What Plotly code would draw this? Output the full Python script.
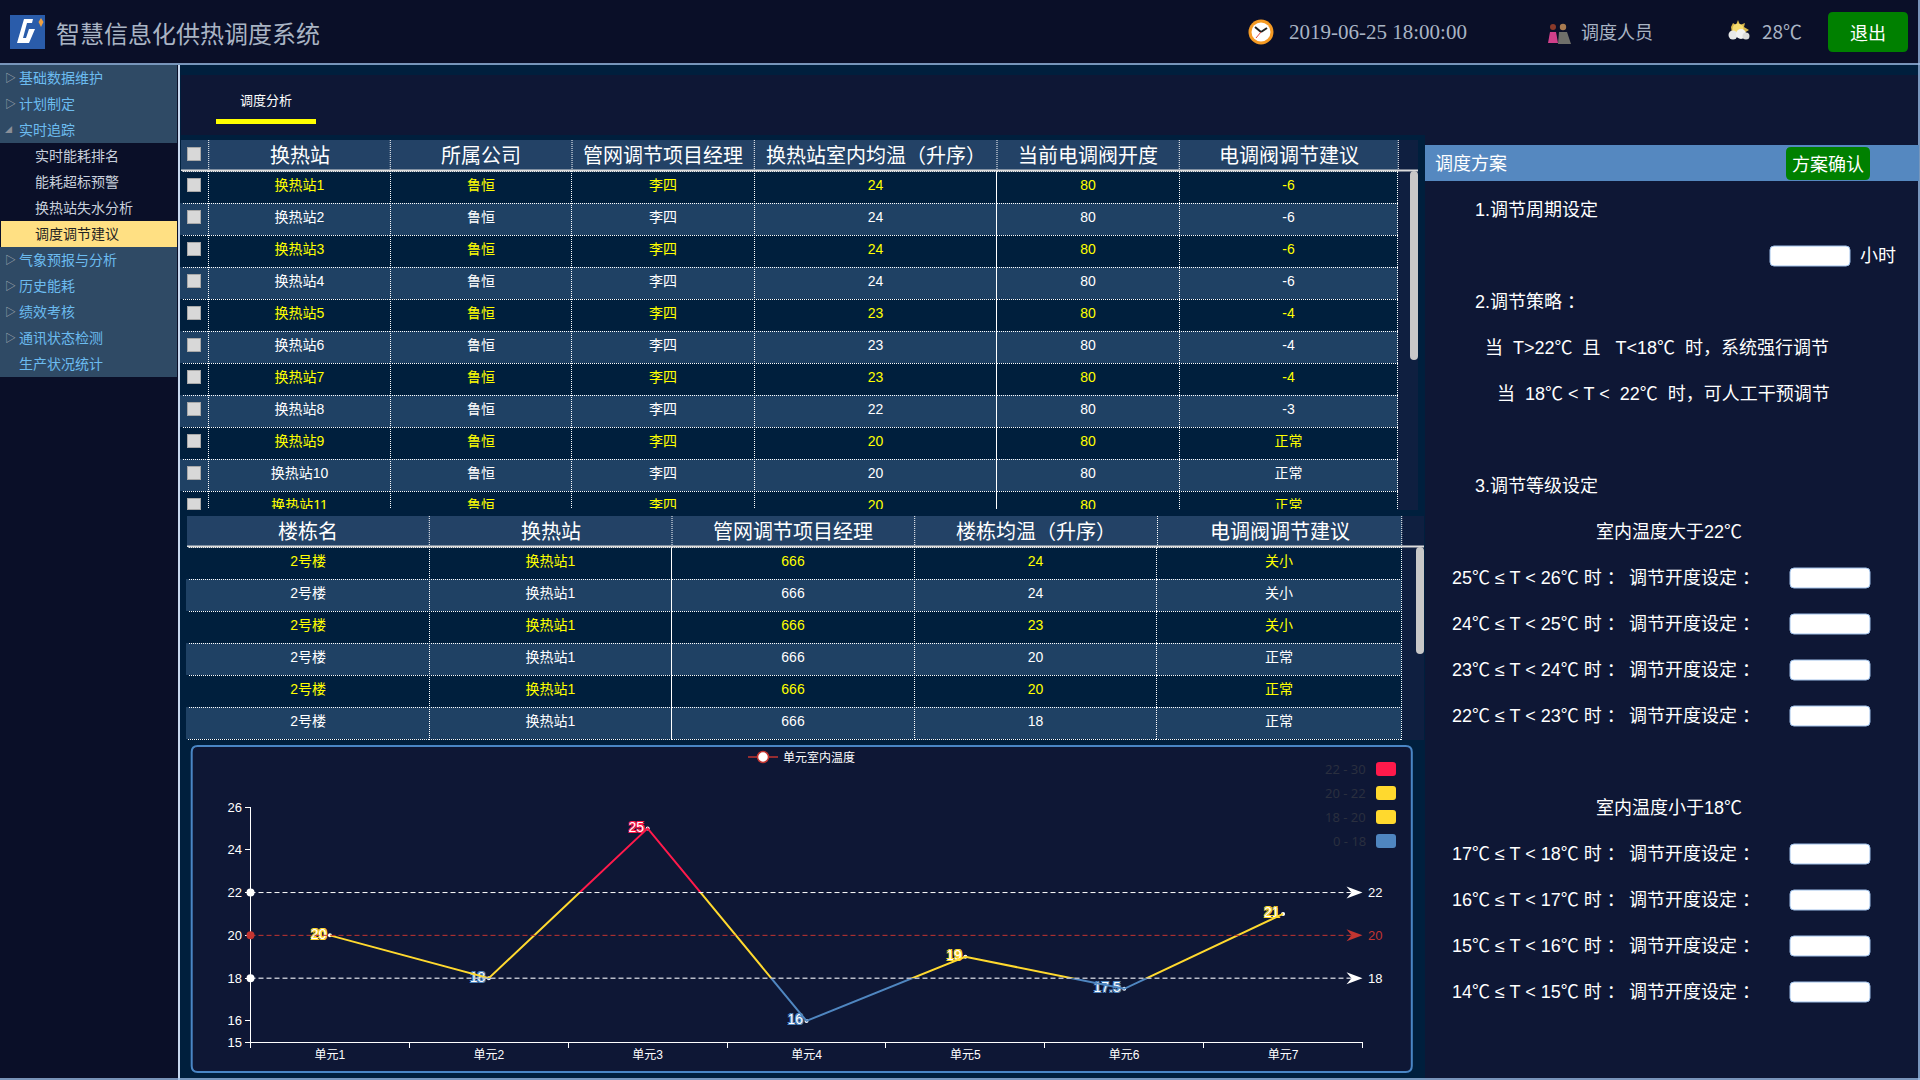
import plotly.graph_objects as go

# ---------- data ----------
units = ["单元1", "单元2", "单元3", "单元4", "单元5", "单元6", "单元7"]
unit_temps = [20, 18, 25, 16, 19, 17.5, 21]
mark_lines = [22, 20, 18]
y_ticks = [15, 16, 18, 20, 22, 24, 26]
band_labels = ["22 - 30", "20 - 22", "18 - 20", "0 - 18"]

t1_headers = ["换热站", "所属公司", "管网调节项目经理", "换热站室内均温（升序）", "当前电调阀开度", "电调阀调节建议"]
t1_station = ["换热站%d" % i for i in range(1, 12)]
t1_company = ["鲁恒"] * 11
t1_manager = ["李四"] * 11
t1_temp = [24, 24, 24, 24, 23, 23, 23, 22, 20, 20, 20]
t1_valve = [80] * 11
t1_advice = [-6, -6, -6, -6, -4, -4, -4, -3, "正常", "正常", "正常"]

t2_headers = ["楼栋名", "换热站", "管网调节项目经理", "楼栋均温（升序）", "电调阀调节建议"]
t2_building = ["2号楼"] * 6
t2_station = ["换热站1"] * 6
t2_manager = [666] * 6
t2_temp = [24, 24, 23, 20, 20, 18]
t2_advice = ["关小", "关小", "关小", "正常", "正常", "正常"]

menu = [("基础数据维护", 0), ("计划制定", 0), ("实时追踪", 0), ("实时能耗排名", 1), ("能耗超标预警", 1),
        ("换热站失水分析", 1), ("调度调节建议", 2), ("气象预报与分析", 0), ("历史能耗", 0), ("绩效考核", 0),
        ("通讯状态检测", 0), ("生产状况统计", 0)]
hi_rows = ["25℃ ≤ T < 26℃ 时 ：", "24℃ ≤ T < 25℃ 时 ：", "23℃ ≤ T < 24℃ 时 ：", "22℃ ≤ T < 23℃ 时 ："]
lo_rows = ["17℃ ≤ T < 18℃ 时 ：", "16℃ ≤ T < 17℃ 时 ：", "15℃ ≤ T < 16℃ 时 ：", "14℃ ≤ T < 15℃ 时 ："]

# ---------- style ----------
SANS = "Liberation Sans, Noto Sans CJK SC, sans-serif"
CJK = "Noto Sans CJK SC, sans-serif"
SERIF = "Liberation Serif, serif"
W, H = 1920, 1080
DARK = "#0a0f28"
MAIN = "#001f3d"
PANEL = "#0e1735"
MENU = "#2f4a65"
PALE = "#9fc0e8"
RED = "#ff1a4b"
YEL = "#ffd92e"
BLU = "#4f86c0"
MARK = "#c23531"

X = lambda p: p / W
Y = lambda p: 1 - p / H

shapes, notes = [], []


def rect(x0, y0, x1, y1, fill, layer="below"):
    shapes.append(dict(type="rect", xref="paper", yref="paper", x0=X(x0), x1=X(x1), y0=Y(y0), y1=Y(y1),
                       fillcolor=fill, line=dict(width=0), layer=layer))


def rrect(x0, y0, x1, y1, fill, r=4, line=None, lw=1, layer="below"):
    a, b, c, d = X(x0), X(x1), Y(y0), Y(y1)
    rx, ry = r / W, r / H
    p = (f"M{a + rx},{c} L{b - rx},{c} Q{b},{c} {b},{c - ry} L{b},{d + ry} Q{b},{d} {b - rx},{d} "
         f"L{a + rx},{d} Q{a},{d} {a},{d + ry} L{a},{c - ry} Q{a},{c} {a + rx},{c} Z")
    shapes.append(dict(type="path", xref="paper", yref="paper", path=p, fillcolor=fill,
                       line=dict(width=lw if line else 0, color=line or fill), layer=layer))


def poly(points, fill, layer="above", line=None, lw=1):
    p = "M" + " L".join(f"{X(a)},{Y(b)}" for a, b in points) + " Z"
    shapes.append(dict(type="path", xref="paper", yref="paper", path=p, fillcolor=fill,
                       line=dict(width=lw if line else 0, color=line or fill), layer=layer))


def circ(cx, cy, r, fill, layer="above", ry=None):
    ry = ry or r
    shapes.append(dict(type="circle", xref="paper", yref="paper", x0=X(cx - r), x1=X(cx + r), y0=Y(cy - ry), y1=Y(cy + ry),
                       fillcolor=fill, line=dict(width=0), layer=layer))


def seg(x0, y0, x1, y1, color, w=1, dash=None, layer="above"):
    shapes.append(dict(type="line", xref="paper", yref="paper", x0=X(x0), x1=X(x1), y0=Y(y0), y1=Y(y1),
                       line=dict(color=color, width=w, dash=dash or "solid"), layer=layer))


def note(x, y, text, size, color="#ffffff", anchor="left", family=SANS):
    if family == CJK:
        y -= 1
    notes.append(dict(xref="paper", yref="paper", x=X(x), y=Y(y), text=text, showarrow=False, borderpad=0, borderwidth=0,
                      xanchor=anchor, yanchor="middle", font=dict(size=size, color=color, family=family)))


def checkbox(cx, cy, h=14):
    notes.append(dict(xref="paper", yref="paper", x=X(cx), y=Y(cy), text=" ", showarrow=False, width=12, height=h - 2,
                      borderpad=0, borderwidth=1, bordercolor="#a8a8a8", bgcolor="#d8d8d8",
                      xanchor="center", yanchor="middle", font=dict(size=8)))


# ---------- page frame ----------
rect(0, 0, W, 64, DARK)
rect(0, 64, W, H, MAIN)
seg(0, 64, W, 64, PALE, 1.5, layer="below")
rect(0, 65, 178, H, DARK)
rect(178, 65, 180, H, "#c8d8ee")
rect(181, 75, 1915, 135, PANEL)
rect(1425, 75, 1919, H, PANEL)
rect(1398, 140, 1418, 510, "#0f1f40")
rect(1402, 516, 1424, 740, "#0f1f40")
seg(1919, 0, 1919, H, PALE, 1.5, layer="below")
seg(0, 1079, W, 1079, PALE, 1.5, layer="below")

# ---------- top bar ----------
rect(10, 15, 45, 49, "#2a5caa")
poly([(33, 19), (24, 19), (17, 43), (29, 43), (35, 29), (29, 29), (26, 38), (23, 38), (27, 23), (32, 23)], "#ffffff")
poly([(41, 18), (43.5, 22), (41, 27), (38.5, 22)], "#f0a040")
note(56, 33, "智慧信息化供热调度系统", 24, "#a9b4c4", family=CJK)
circ(1261, 32, 12.5, "#f59a23")
circ(1261, 32, 9.5, "#ffffff")
seg(1261, 32, 1255, 27, "#222222", 2)
seg(1261, 32, 1267, 28, "#222222", 2)
seg(1261, 32, 1256, 38, "#e2463c", 1)
note(1289, 32, "2019-06-25 18:00:00", 21, "#a9b4c4", family=SERIF)
circ(1553, 27, 3, "#8a3a2a")
poly([(1548, 43), (1550, 32), (1556, 32), (1558, 43)], "#d0408a")
circ(1563, 27, 3.2, "#a87a50")
poly([(1558, 44), (1559, 32), (1567, 32), (1571, 44)], "#6f6f6a")
note(1581, 32, "调度人员", 18, "#a9b4c4", family=CJK)
poly([(1738, 20), (1740, 25), (1745, 23), (1744, 27), (1749, 30), (1744, 33), (1732, 33), (1731, 27), (1733, 23), (1736, 25)], "#d8b64a")
circ(1738, 29, 5.5, "#f7dc6f")
circ(1733, 35, 4.5, "#e8e8e8")
circ(1741, 34, 5, "#f2f2f2")
circ(1746, 36, 3.5, "#dcdcdc")
note(1762, 32, "28℃", 19, "#a9b4c4", family=CJK)
rrect(1828, 12, 1908, 52, "#008000", r=5)
note(1868, 33, "退出", 18, "#ffffff", "center", CJK)

# ---------- side menu ----------
rect(0, 65, 177, 143, MENU)
rect(0, 247, 177, 377, MENU)
for i, (label, kind) in enumerate(menu):
    cy = 78 + 26 * i
    if kind == 0:
        note(19, cy, label, 14, "#6cbcf0", family=CJK)
        if label == "实时追踪":
            note(8, cy, "◢", 7, "#8a8f98", "center", CJK)
        elif label != "生产状况统计":
            note(10, cy, "▷", 11, "#a8adb5", "center", CJK)
    elif kind == 1:
        note(35, cy, label, 14, "#c8d0dc", family=CJK)
    else:
        rect(1, cy - 13, 177, cy + 13, "#ffe083")
        note(35, cy, label, 14, "#222222", family=CJK)

# ---------- tab ----------
note(266, 101, "调度分析", 13, "#ffffff", "center", CJK)
rect(216, 119, 316, 124, "#ffff00")

# ---------- tables ----------
T1_X = [181, 208.7, 390.3, 572, 754.3, 997, 1179.3, 1398.3]
T2_X = [187, 429.3, 672, 914.7, 1157.5, 1401.7]
ROW_DARK, ROW_LITE, HEAD = MAIN, "#1f4164", "#234266"
BLANK_HEAD = 16


def table_head(xs, y0, y1, labels, line_end):
    rect(xs[0], y0, xs[-1], y1, HEAD)
    offset = len(xs) - len(labels) - 1
    for i, t in enumerate(labels):
        note((xs[i + offset] + xs[i + offset + 1]) / 2, (y0 + y1) / 2, t, 20, "#ffffff", "center", CJK)
    for x in xs[1:]:
        seg(x, y0, x, y1, "#ffffff", 1, "1px,1px", layer="above")
    seg(xs[0], y1 + 0.5, line_end, y1 + 0.5, "#dcdcdc", 2)


def table_trace(xs, y0, y1, columns):
    n = len(columns[0])
    colors = ["#ffff00" if r % 2 == 0 else "#ffffff" for r in range(n)]
    fills = [ROW_DARK if r % 2 == 0 else ROW_LITE for r in range(n)]
    for r in range(n):
        top = y0 + 32 * r
        rect(xs[0] - 1, top, xs[0] + 1, min(top + 32, y1), fills[r], layer="above")
    return go.Table(
        domain=dict(x=[X(xs[0]), X(xs[-1])], y=[Y(y1), Y(y0 - BLANK_HEAD)]),
        columnwidth=[b - a for a, b in zip(xs, xs[1:])],
        header=dict(values=[], height=1, fill=dict(color=HEAD), line=dict(color=HEAD, width=0)),
        cells=dict(values=columns, height=32, align="center",
                   font=dict(size=14, family=SANS, color=[colors for _ in columns]),
                   fill=dict(color=[fills for _ in columns]),
                   line=dict(color="#ffffff", width=1)),
    )


table_head(T1_X, 140, 170, t1_headers, 1418)
table_head(T2_X, 516, 546, t2_headers, 1424)

t1 = table_trace(T1_X, 171, 509.5, [[""] * 11, t1_station, t1_company, t1_manager, t1_temp, t1_valve, t1_advice])
t2 = table_trace(T2_X, 547, 741, [t2_building, t2_station, t2_manager, t2_temp, t2_advice])

checkbox(194, 154)
for r in range(10):
    checkbox(194, 185 + 32 * r)
checkbox(194, 504, 12)

rrect(1410, 171, 1418, 360, "#c8c8c8", r=4, layer="above")
rrect(1416, 547, 1424, 654, "#c8c8c8", r=4, layer="above")

# ---------- right panel ----------
rect(1425, 145, 1919, 181, "#5588c0")
note(1435, 163, "调度方案", 18, "#ffffff", family=CJK)
rrect(1786, 147, 1870, 180, "#008000", r=5)
note(1828, 163.5, "方案确认", 18, "#ffffff", "center", CJK)
note(1475, 210, "1.调节周期设定", 18)
rrect(1770, 246, 1850, 266, "#ffffff", r=4, line="#9ebfe8")
note(1860, 256, "小时", 18)
note(1475, 302, "2.调节策略 ：", 18)
note(1485, 348, "当  T>22℃  且   T<18℃  时，系统强行调节", 18)
note(1497, 394, "当  18℃ < T <  22℃  时，可人工干预调节", 18)
note(1475, 486, "3.调节等级设定", 18)
note(1669, 532, "室内温度大于22℃", 18, anchor="center")
note(1669, 808, "室内温度小于18℃", 18, anchor="center")
for rows, y_start in ((hi_rows, 578), (lo_rows, 854)):
    for i, t in enumerate(rows):
        cy = y_start + 46 * i
        note(1452, cy, t, 18)
        note(1629, cy, "调节开度设定 ：", 18)
        rrect(1790, cy - 10, 1870, cy + 10, "#ffffff", r=4, line="#9ebfe8")

# ---------- chart panel ----------
rrect(191.7, 746, 1411.8, 1072, PANEL, r=6, line="#4a86c5", lw=2)
for i, t in enumerate(band_labels):
    cy = 769 + 24 * i
    note(1366, cy, t, 13, "#2a2f3f", "right", "Noto Sans, sans-serif")
    rrect(1376, cy - 7, 1396, cy + 7, [RED, YEL, YEL, BLU][i], r=3)

PL, PR, PT, PB = 250.5, 1362.5, 807.0, 1042.3
unit_px = (PB - PT) / (26 - 15)
yv = lambda v: PB - (v - 15) * unit_px
bands = [("y2", 22, 26, RED), ("y3", 18, 22, YEL), ("y4", 15, 18, BLU)]

fig = go.Figure()
fig.add_trace(t1)
fig.add_trace(t2)
for axis, lo, hi, col in bands:
    fig.add_trace(go.Scatter(x=units, y=unit_temps, xaxis="x", yaxis=axis, mode="lines",
                             line=dict(color=col, width=2), showlegend=False, hoverinfo="skip"))


def band_of(v):
    return RED if v > 22 else (YEL if v > 18 else BLU)


def halo(c):
    return f"1px 1px 0 {c}, -1px -1px 0 {c}, 1px -1px 0 {c}, -1px 1px 0 {c}"


fig.add_trace(go.Scatter(x=units, y=unit_temps, xaxis="x", yaxis="y", mode="markers+text",
                         text=[str(v) for v in unit_temps], textposition="middle left",
                         textfont=dict(size=14, color="#ffffff", family=SANS,
                                       shadow=[halo(band_of(v)) for v in unit_temps]),
                         marker=dict(size=4, color="#ffffff"), cliponaxis=False, showlegend=False))
fig.add_trace(go.Scatter(x=[None], y=[None], name="单元室内温度", mode="lines+markers",
                         line=dict(color=MARK, width=1.5),
                         marker=dict(size=11, color="#ffffff", line=dict(color=MARK, width=1.5))))

for v in mark_lines:
    col = MARK if v == 20 else ("#b8bcc8" if v == 18 else "#ffffff")
    head = MARK if v == 20 else "#ffffff"
    shapes.append(dict(type="line", xref="x domain", yref="y", x0=0, x1=1, y0=v, y1=v,
                       line=dict(color=col, width=1.5 if v == 18 else 1, dash="5px,3px"), layer="above"))
    shapes.append(dict(type="circle", xref="x domain", yref="y", xsizemode="pixel", ysizemode="pixel",
                       xanchor=0, yanchor=v, x0=-4, x1=4, y0=-4, y1=4, fillcolor=head, line=dict(width=0), layer="above"))
    shapes.append(dict(type="path", xref="x domain", yref="y", xsizemode="pixel", ysizemode="pixel",
                       xanchor=1, yanchor=v, path="M -16 -6 L 0 0 L -16 6 L -11 0 Z",
                       fillcolor=head, line=dict(width=0), layer="above"))
    notes.append(dict(xref="x domain", yref="y", x=1, y=v, xshift=3, text=str(v), showarrow=False,
                      xanchor="left", yanchor="middle", font=dict(size=13, color=head, family=SANS)))

hidden = dict(visible=False, fixedrange=True, anchor="x")
layout_axes = {
    "xaxis": dict(domain=[X(PL), X(PR)], type="category", categoryorder="array", categoryarray=units,
                  range=[-0.5, 6.5], anchor="y", tickson="boundaries", ticks="outside", ticklen=5,
                  tickcolor="#ffffff", showline=True, linecolor="#ffffff", linewidth=1, showgrid=False,
                  zeroline=False, tickfont=dict(size=12, color="#ffffff", family=SANS), fixedrange=True,
                  ticklabelstandoff=1),
    "yaxis": dict(domain=[Y(PB), Y(PT)], range=[15, 26], tickvals=y_ticks, anchor="x", ticks="outside", ticklen=5,
                  tickcolor="#ffffff", showline=True, linecolor="#ffffff", linewidth=1, showgrid=False,
                  zeroline=False, tickfont=dict(size=13, color="#ffffff", family=SANS), fixedrange=True),
}
for axis, lo, hi, col in bands:
    name = "yaxis" + axis[1:]
    layout_axes[name] = dict(domain=[Y(yv(lo)), Y(yv(hi))], range=[lo, hi], **hidden)

fig.update_layout(
    width=W, height=H, margin=dict(l=0, r=0, t=0, b=0, autoexpand=False), paper_bgcolor=MAIN,
    plot_bgcolor="rgba(0,0,0,0)",
    shapes=shapes, annotations=notes, hovermode=False, dragmode=False,
    font=dict(family=SANS, color="#ffffff"),
    legend=dict(x=X(743), y=Y(757), xanchor="left", yanchor="middle", bgcolor="rgba(0,0,0,0)",
                font=dict(size=12, color="#ffffff", family=SANS), itemwidth=30),
    showlegend=True, **layout_axes)

css = ("body{margin:0;overflow:hidden}.cell-rect{stroke-dasharray:1 1}"
       ".scrollbar-kit{display:none}")
post = "var s=document.createElement('style');s.textContent='" + css + "';document.head.appendChild(s);"
fig.write_html("out.html", post_script=post, config={"displayModeBar": False})
